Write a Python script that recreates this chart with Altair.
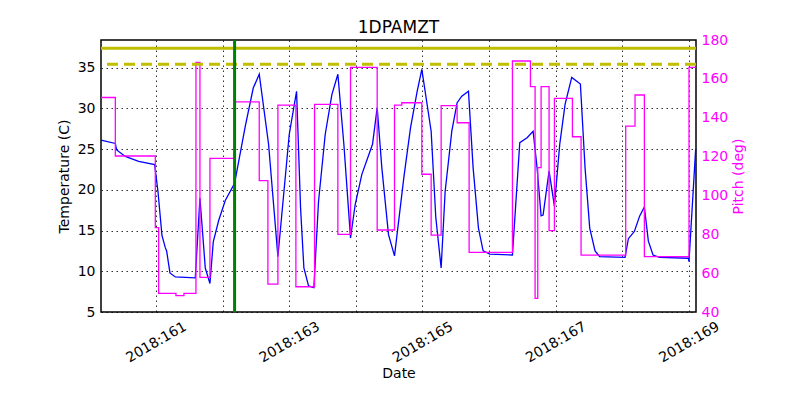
import altair as alt
import pandas as pd

# ---- data ----
temp_day = [160.175, 160.39, 160.41, 160.54, 160.74, 160.98, 161.03, 161.09, 161.14, 161.16,
            161.21, 161.29, 161.59, 161.66, 161.74, 161.81, 161.86, 161.94, 162.04, 162.18,
            162.34, 162.46, 162.55, 162.69, 162.83, 163.00, 163.11, 163.17, 163.22, 163.29,
            163.37, 163.44, 163.54, 163.64, 163.73, 163.82, 163.92, 163.99, 164.09, 164.25,
            164.32, 164.39, 164.49, 164.58, 164.72, 164.82, 164.92, 164.99, 165.13, 165.20,
            165.28, 165.34, 165.44, 165.52, 165.59, 165.69, 165.76, 165.84, 165.91, 166.01,
            166.35, 166.46, 166.57, 166.66, 166.72, 166.78, 166.81, 166.90, 166.98, 167.06,
            167.14, 167.24, 167.37, 167.44, 167.51, 167.59, 167.66, 168.04, 168.09, 168.18,
            168.26, 168.33, 168.39, 168.46, 168.56, 168.99, 169.00, 169.10]
temp_val = [26.1, 25.7, 24.9, 24.1, 23.5, 23.1, 19.8, 14.4, 12.9, 12.5,
            9.8, 9.3, 9.2, 19.0, 10.4, 8.5, 13.6, 16.2, 18.7, 20.8,
            27.8, 32.5, 34.2, 25.6, 11.8, 26.8, 32.1, 17.8, 10.4, 8.2,
            8.0, 18.6, 26.8, 31.7, 34.2, 25.6, 14.1, 18.2, 21.9, 25.6,
            30.1, 22.7, 14.5, 11.9, 21.5, 27.6, 32.1, 34.8, 27.2, 16.6,
            10.4, 19.8, 27.2, 30.7, 31.5, 32.1, 22.7, 15.3, 12.5, 12.1,
            12.0, 25.8, 26.4, 27.2, 22.7, 16.8, 16.9, 22.3, 18.0, 25.6,
            30.5, 33.8, 33.0, 22.7, 15.3, 12.5, 11.8, 11.7, 14.0, 14.9,
            16.8, 17.9, 13.7, 12.0, 11.7, 11.6, 11.2, 25.0]

pitch_day = [160.175, 160.39, 160.99, 161.04, 161.30, 161.42, 161.60, 161.66, 161.81, 162.18,
             162.55, 162.68, 162.83, 163.10, 163.38, 163.73, 163.92, 164.32, 164.58, 164.69,
             164.99, 165.13, 165.28, 165.52, 165.70, 166.35, 166.62, 166.69, 166.73, 166.78,
             166.90, 166.98, 167.25, 167.38, 168.05, 168.19, 168.33, 169.00, 169.105]
pitch_val = [150.4, 120.3, 83.4, 49.6, 48.4, 49.6, 168.5, 57.8, 119.1, 148.2,
             107.6, 54.3, 146.5, 53.0, 146.9, 80.0, 165.9, 82.2, 146.5, 147.7,
             110.9, 79.6, 146.2, 137.4, 70.7, 169.2, 156.0, 47.0, 114.3, 156.0,
             81.9, 150.0, 130.2, 69.3, 135.7, 151.7, 68.5, 165.9, 165.9]

limit_levels = [37.38, 35.42]
limit_kind = ["planning", "caution"]
event_day = [162.18]

x_ticks = list(range(161, 170))
x_domain = [160.175, 169.105]
temp_domain = [5, 38.4]
temp_ticks = [5, 10, 15, 20, 25, 30, 35]
pitch_domain = [40, 180]
pitch_ticks = [40, 60, 80, 100, 120, 140, 160, 180]

temp_df = pd.DataFrame({"day": temp_day, "temp": temp_val})
pitch_df = pd.DataFrame({"day": pitch_day, "pitch": pitch_val})
limit_df = pd.DataFrame({"level": limit_levels, "kind": limit_kind})
event_df = pd.DataFrame({"day": event_day})

FONT = "DejaVu Sans"
MAG = "#ff00ff"

x_enc = alt.X(
    "day:Q",
    scale=alt.Scale(domain=x_domain, nice=False, zero=False),
    axis=alt.Axis(
        title="Date", values=x_ticks,
        labelExpr="datum.value % 2 == 1 ? '2018:' + datum.value : ''",
        labelAngle=-30, labelAlign="center", labelBaseline="middle",
        labelPadding=30, labelOverlap=False, labelFlush=False, labelBound=False,
        ticks=False, tickSize=0, domain=False, grid=True, titlePadding=2,
    ),
)

temp_line = alt.Chart(temp_df).mark_line(color="#0000ff", strokeWidth=1.3).encode(
    x=x_enc,
    y=alt.Y("temp:Q",
            scale=alt.Scale(domain=temp_domain, nice=False, zero=False),
            axis=alt.Axis(title="Temperature (C)", values=temp_ticks, grid=True,
                          ticks=False, tickSize=0, domain=False, labelPadding=6,
                          titlePadding=6, orient="left")),
)

pitch_line = alt.Chart(pitch_df).mark_line(color=MAG, strokeWidth=1.3, interpolate="step-after").encode(
    x=alt.X("day:Q"),
    y=alt.Y("pitch:Q",
            scale=alt.Scale(domain=pitch_domain, nice=False, zero=False),
            axis=alt.Axis(title="Pitch (deg)", values=pitch_ticks, grid=False,
                          ticks=False, tickSize=0, domain=False, labelPadding=5,
                          titlePadding=4, orient="right", titleAngle=270,
                          titleBaseline="top",
                          labelColor=MAG, titleColor=MAG)),
)

limit_rules = alt.Chart(limit_df).mark_rule(color="#bfbf00", strokeWidth=3).encode(
    y=alt.Y("level:Q", scale=alt.Scale(domain=temp_domain, nice=False, zero=False), axis=None),
    strokeDash=alt.StrokeDash("kind:N",
                              scale=alt.Scale(domain=limit_kind, range=[[1, 0], [11, 6]]),
                              legend=None),
)

event_rule = alt.Chart(event_df).mark_rule(color="#008000", strokeWidth=3).encode(
    x=alt.X("day:Q"),
)

chart = alt.layer(temp_line, pitch_line, limit_rules, event_rule).resolve_scale(
    y="independent"
).properties(
    width=595, height=272,
    background="white",
    title=alt.TitleParams("1DPAMZT", fontSize=17, font=FONT, fontWeight="normal",
                          color="black", offset=-4, anchor="middle"),
    autosize=alt.AutoSizeParams(type="none"),
    padding={"left": 93, "top": 32, "right": 96, "bottom": 80},
).configure_view(
    stroke="black", strokeWidth=1.5,
).configure_axis(
    labelFont=FONT, titleFont=FONT, labelFontSize=14, titleFontSize=14,
    titleFontWeight="normal", labelColor="black", titleColor="black",
    gridColor="black", gridDash=[1.5, 3.5], gridOpacity=0.8, gridWidth=1,
)

chart.save("out.html", embed_options={"renderer": "svg", "actions": False})
